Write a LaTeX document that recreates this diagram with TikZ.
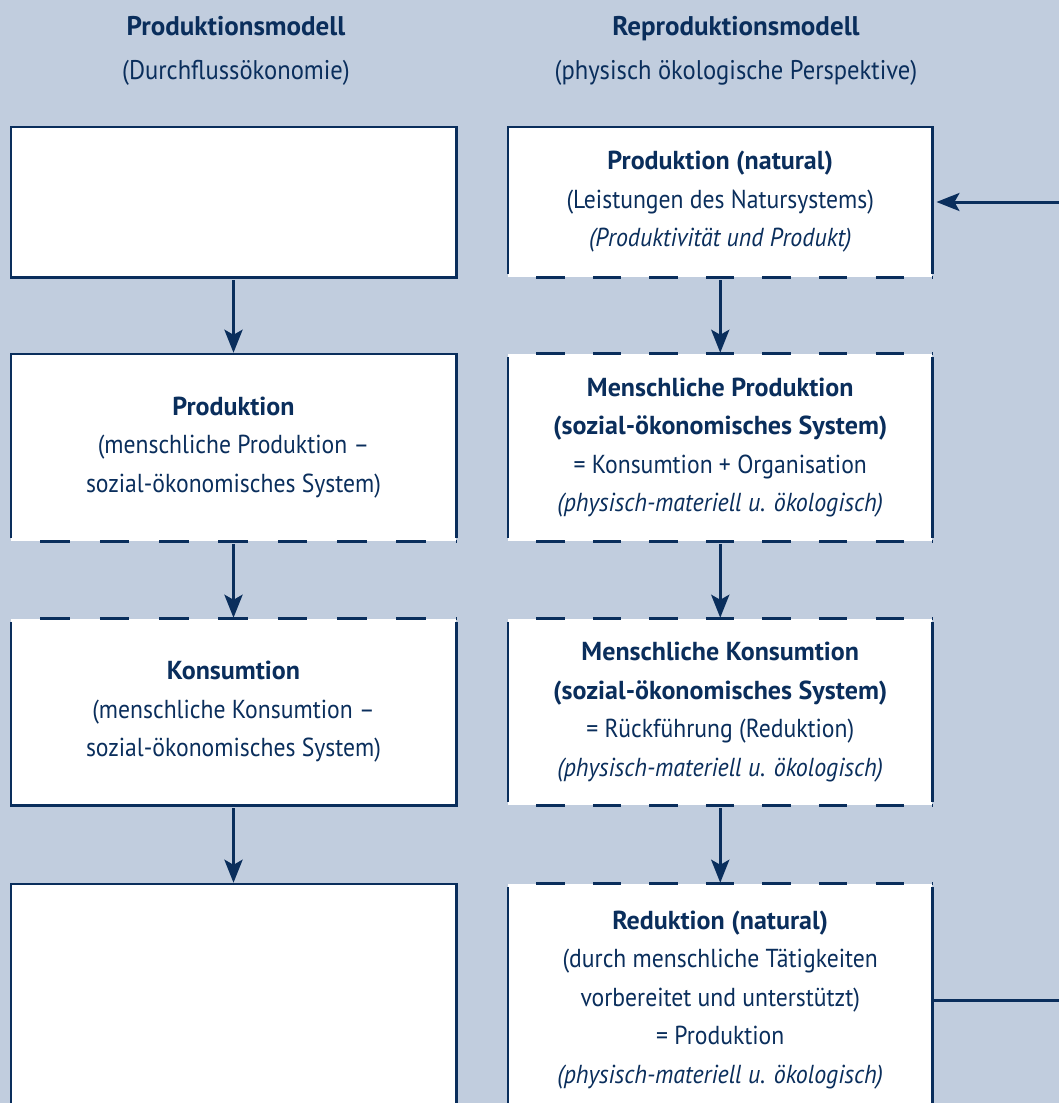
\documentclass[tikz,border=0pt]{standalone}
\usepackage{fontspec}
\setmainfont{PT Sans}[UprightFeatures={FakeStretch=0.91}, ItalicFeatures={FakeStretch=0.92}]
\usetikzlibrary{arrows.meta,calc}
\definecolor{bgblue}{HTML}{C1CDDE}
\definecolor{navy}{HTML}{0A2E5C}
\newcommand\boxfnt{\fontsize{26}{38.5}\selectfont}
\newcommand\headfnt{\fontsize{27}{44}\selectfont}
\begin{document}
\begin{tikzpicture}[x=1pt,y=-1pt,
  boxnode/.style={fill=white, inner sep=0pt, text=navy, align=center, font=\boxfnt},
  lbox/.style={boxnode, minimum width=445pt},
  rbox/.style={boxnode, minimum width=424pt},
  headnode/.style={text=navy, align=center, font=\headfnt, inner sep=0pt},
  edge/.style={draw=navy, line width=2.6pt, line join=miter},
  ldash/.style={draw=navy, line width=2.8pt, dash pattern=on 29.667pt off 29.667pt, dash phase=29.667pt},
  rdash/.style={draw=navy, line width=2.8pt, dash pattern=on 28.267pt off 28.267pt, dash phase=28.267pt},
  flow/.style={draw=navy, line width=3.3pt, -{Stealth[length=23pt,width=18pt,inset=5pt]}, shorten <=3pt, shorten >=1pt},
  loop/.style={draw=navy, line width=3pt, line join=miter, -{Stealth[length=23pt,width=18pt,inset=5pt]}, shorten >=4pt}
]
\useasboundingbox (0,0) rectangle (1059,1103);
\clip (0,0) rectangle (1059,1103);
\fill[bgblue] (0,0) rectangle (1059,1103);

% headers
\node[headnode] (hL) at (236,51) {\textbf{Produktionsmodell}\\(Durchflussökonomie)};
\node[headnode] (hR) at (736,51) {\textbf{Reproduktionsmodell}\\(physisch ökologische Perspektive)};

% left column
\node[lbox, minimum height=150pt] (L1) at (233.5,202) {};
\node[lbox, minimum height=187pt] (L2) at (233.5,447.5) {\textbf{Produktion}\\(menschliche Produktion –\\sozial-ökonomisches System)};
\node[lbox, minimum height=186pt] (L3) at (233.5,712) {\textbf{Konsumtion}\\(menschliche Konsumtion –\\sozial-ökonomisches System)};
\node[lbox, minimum height=232pt] (L4) at (233.5,1000) {};

% right column
\node[rbox, minimum height=150pt] (R1) at (720.25,202) {\textbf{Produktion (natural)}\\(Leistungen des Natursystems)\\\textit{(Produktivität und Produkt)}};
\node[rbox, minimum height=187pt] (R2) at (720.25,447.5) {\textbf{Menschliche Produktion}\\\textbf{(sozial-ökonomisches System)}\\= Konsumtion + Organisation\\\textit{(physisch-materiell u. ökologisch)}};
\node[rbox, minimum height=186pt] (R3) at (720.25,712) {\textbf{Menschliche Konsumtion}\\\textbf{(sozial-ökonomisches System)}\\= Rückführung (Reduktion)\\\textit{(physisch-materiell u. ökologisch)}};
\node[rbox, minimum height=232pt] (R4) at (720.25,1000) {\textbf{Reduktion (natural)}\\(durch menschliche Tätigkeiten\\vorbereitet und unterstützt)\\= Produktion\\\textit{(physisch-materiell u. ökologisch)}};

% left borders
\draw[edge] (L1.south west) rectangle (L1.north east);
\draw[edge] ($(L2.south west)+(0,-3)$) -- (L2.north west) -- (L2.north east) -- ($(L2.south east)+(0,-3)$);
\draw[ldash] (L2.south west) -- (L2.south east);
\draw[ldash] (L3.north west) -- (L3.north east);
\draw[edge] ($(L3.north west)+(0,3)$) -- (L3.south west) -- (L3.south east) -- ($(L3.north east)+(0,3)$);
\draw[edge] (L4.south west) -- (L4.north west) -- (L4.north east) -- (L4.south east);

% right borders
\draw[edge] ($(R1.south west)+(0,-3)$) -- (R1.north west) -- (R1.north east) -- ($(R1.south east)+(0,-3)$);
\draw[rdash] (R1.south west) -- (R1.south east);
\foreach \b in {R2,R3} {
  \draw[rdash] (\b.north west) -- (\b.north east);
  \draw[rdash] (\b.south west) -- (\b.south east);
  \draw[edge] ($(\b.north west)+(0,3)$) -- ($(\b.south west)+(0,-3)$);
  \draw[edge] ($(\b.north east)+(0,3)$) -- ($(\b.south east)+(0,-3)$);
}
\draw[rdash] (R4.north west) -- (R4.north east);
\draw[edge] ($(R4.north west)+(0,3)$) -- (R4.south west);
\draw[edge] ($(R4.north east)+(0,3)$) -- (R4.south east);

% flows
\draw[flow] (L1.south) -- (L2.north);
\draw[flow] (L2.south) -- (L3.north);
\draw[flow] (L3.south) -- (L4.north);
\draw[flow] (R1.south) -- (R2.north);
\draw[flow] (R2.south) -- (R3.north);
\draw[flow] (R3.south) -- (R4.north);

% feedback loop
\coordinate (fbB) at (1085,1000);
\coordinate (fbT) at (1085,202);
\draw[loop] (R4.east) -- (fbB) -- (fbT) -- (R1.east);
\end{tikzpicture}
\end{document}
